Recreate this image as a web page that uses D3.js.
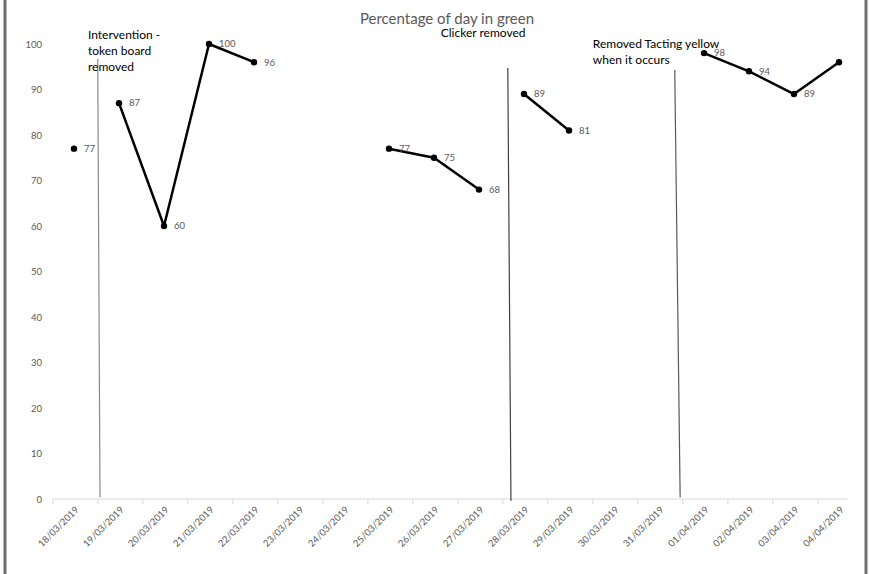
<!DOCTYPE html>
<html>
<head>
<meta charset="utf-8">
<script src="https://cdn.jsdelivr.net/npm/d3@7"></script>
<style>
  html, body { margin: 0; padding: 0; background: #fff; }
  svg { display: block; font-family: Lato, "Noto Sans", sans-serif; }
</style>
</head>
<body>
<svg id="chart" width="870" height="574"></svg>
<script>
// ---- data ----
const dates = ["18/03/2019","19/03/2019","20/03/2019","21/03/2019","22/03/2019","23/03/2019",
               "24/03/2019","25/03/2019","26/03/2019","27/03/2019","28/03/2019","29/03/2019",
               "30/03/2019","31/03/2019","01/04/2019","02/04/2019","03/04/2019","04/04/2019"];
const values = [77, 87, 60, 100, 96, null, null, 77, 75, 68, 89, 81, null, null, 98, 94, 89, 96];
const phases = [0, 1, 1, 1, 1, 1, 1, 1, 1, 1, 2, 2, 2, 2, 3, 3, 3, 3];
const showLabel = [1,1,1,1,1,0,0,1,1,1,1,1,0,0,1,1,1,0];
const yTicks = [0, 10, 20, 30, 40, 50, 60, 70, 80, 90, 100];
const title = "Percentage of day in green";
// phase-change lines: [index, value] at top and bottom
const phaseLines = [
  { x1: 0.527, y1: 96.7, x2: 0.578, y2: 0.4, color: "#8a8a8a" },
  { x1: 9.64,  y1: 94.7, x2: 9.71,  y2: -0.4, color: "#404040" },
  { x1: 13.35, y1: 94.3, x2: 13.47, y2: 0.4, color: "#5a5a5a" }
];
const notes = [
  { x: 0.31,  y: 101.1, lines: ["Intervention -", "token board", "removed"] },
  { x: 8.15,  y: 101.5, lines: ["Clicker removed"] },
  { x: 11.53, y: 99.1,  lines: ["Removed Tacting yellow", "when it occurs"] }
];

// ---- scales ----
const svg = d3.select("#chart");
const x = d3.scaleLinear().domain([0, dates.length - 1]).range([74, 839]);
const y = d3.scaleLinear().domain([0, 100]).range([499, 44]);

// frame sides
svg.append("line").attr("x1", 5).attr("x2", 5).attr("y1", 0).attr("y2", 574)
  .attr("stroke", "#6e6e6e").attr("stroke-width", 3);
svg.append("line").attr("x1", 866).attr("x2", 866).attr("y1", 0).attr("y2", 574)
  .attr("stroke", "#6e6e6e").attr("stroke-width", 3);

// title
svg.append("text").attr("x", 447).attr("y", 24).attr("text-anchor", "middle")
  .attr("font-size", 15).attr("fill", "#595959").text(title);

// y axis (labels only)
const yAxis = d3.axisLeft(y).tickValues(yTicks).tickSize(0).tickPadding(0);
const gy = svg.append("g").attr("transform", "translate(42,0)").call(yAxis);
gy.select(".domain").remove();
gy.selectAll("text").attr("font-family", "Lato, sans-serif").attr("font-size", 9.5).attr("fill", "#595959");

// x axis line + ticks at category boundaries
const axisY = y(0);
svg.append("line").attr("x1", x(-0.47)).attr("x2", x(17.18)).attr("y1", axisY).attr("y2", axisY)
  .attr("stroke", "#d9d9d9").attr("stroke-width", 1);
svg.selectAll(".xtick").data(dates).enter().append("line")
  .attr("x1", (d, i) => x(i - 0.47)).attr("x2", (d, i) => x(i - 0.47))
  .attr("y1", axisY).attr("y2", axisY + 5)
  .attr("stroke", "#d9d9d9");
svg.selectAll(".xlab").data(dates).enter().append("text")
  .attr("transform", (d, i) => `translate(${x(i) + 3},${axisY + 9}) rotate(-45)`)
  .attr("text-anchor", "end").attr("dy", "0.35em")
  .attr("font-size", 9.5).attr("fill", "#595959").text(d => d);

// phase lines
svg.selectAll(".phase").data(phaseLines).enter().append("line")
  .attr("x1", d => x(d.x1)).attr("y1", d => y(d.y1))
  .attr("x2", d => x(d.x2)).attr("y2", d => y(d.y2))
  .attr("stroke", d => d.color).attr("stroke-width", 1.2);

// series line (broken at nulls and phase changes)
const pts = dates.map((d, i) => ({ i, v: values[i], p: phases[i] }));
const line = d3.line()
  .defined(d => d.v != null)
  .x(d => x(d.i)).y(d => y(d.v));
const byPhase = d3.groups(pts, d => d.p);
svg.selectAll(".seg").data(byPhase).enter().append("path")
  .attr("d", d => line(d[1]))
  .attr("fill", "none").attr("stroke", "#000").attr("stroke-width", 2.5)
  .attr("stroke-linejoin", "round");

// markers
const valid = pts.filter(d => d.v != null);
svg.selectAll(".pt").data(valid).enter().append("circle")
  .attr("cx", d => x(d.i)).attr("cy", d => y(d.v)).attr("r", 3.2).attr("fill", "#000");

// data labels
svg.selectAll(".dl").data(valid.filter(d => showLabel[d.i])).enter().append("text")
  .attr("x", d => x(d.i) + 10).attr("y", d => y(d.v)).attr("dy", "0.35em")
  .attr("font-size", 9.5).attr("fill", "#595959").text(d => d.v);

// annotations
notes.forEach(n => {
  const t = svg.append("text").attr("x", x(n.x)).attr("y", y(n.y))
    .attr("font-size", 12).attr("fill", "#000");
  n.lines.forEach((s, k) => {
    t.append("tspan").attr("x", x(n.x)).attr("dy", k === 0 ? 0 : 15.8).text(s);
  });
});
</script>
</body>
</html>
